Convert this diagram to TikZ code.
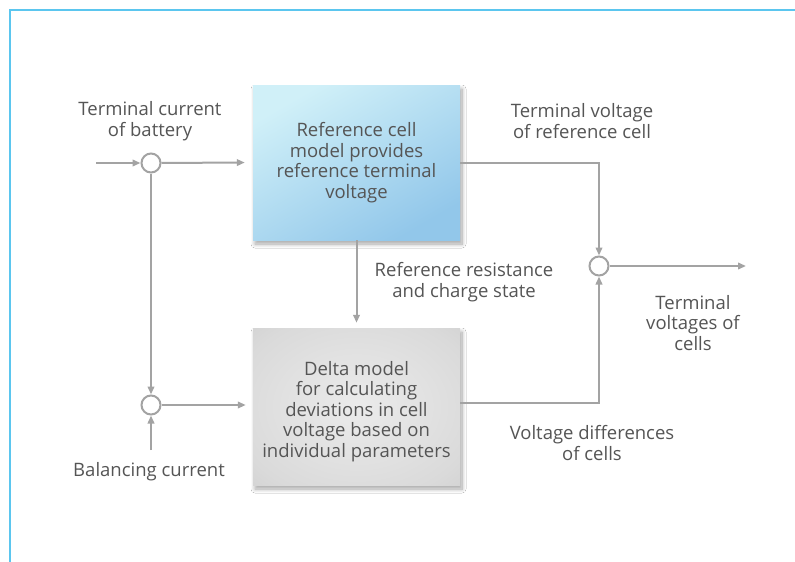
\documentclass[tikz,border=0pt]{standalone}
\usepackage{fontspec}
\setmainfont{Open Sans}
\usetikzlibrary{arrows.meta,shadows.blur,calc}
\definecolor{framec}{HTML}{5BC6EF}
\definecolor{linec}{HTML}{A3A3A3}
\definecolor{textc}{HTML}{555555}
\definecolor{bluetop}{HTML}{D0F0F8}
\definecolor{bluebot}{HTML}{92C7EA}
\definecolor{grayin}{HTML}{EBEBEB}
\definecolor{graymid}{HTML}{DADADA}
\definecolor{grayedge}{HTML}{C6C6C6}
\definecolor{graycorner}{HTML}{ADADAD}
\pgfdeclareradialshading{grayrad}{\pgfpoint{0bp}{0bp}}{color(0bp)=(grayin); color(30bp)=(graymid); color(50bp)=(grayedge); color(72bp)=(graycorner)}
\begin{document}
\begin{tikzpicture}[x=1pt,y=-1pt,
  conn/.style={draw=linec,line width=2pt},
  arr/.style={conn,-{Triangle[length=8pt,width=6.5pt]}},
  sumnode/.style={circle,draw=linec,line width=2pt,fill=white,minimum size=19pt,inner sep=0pt},
  lbl/.style={text=textc,align=center,font=\fontsize{18.5}{20.5}\selectfont,inner sep=0pt},
  boxbase/.style={rectangle,minimum width=207pt,inner sep=0pt,text=textc,align=center,
    font=\fontsize{18.5}{20.5}\selectfont,
    blur shadow={shadow xshift=2pt,shadow yshift=-4pt,shadow blur radius=4pt,shadow blur steps=10,shadow opacity=35}},
  refstyle/.style={boxbase,minimum height=155pt,top color=bluetop,bottom color=bluebot,shading angle=30},
  deltastyle/.style={boxbase,minimum height=157pt,shading=grayrad}
]
\useasboundingbox (0,0) rectangle (795,562);
\fill[white] (0,0) rectangle (795,562);
\draw[framec,line width=2.2pt] (10,563) -- (10,10) -- (796,10);

\node[refstyle] (refbox) at (356.5,162.5) {Reference cell\\model provides\\reference terminal\\voltage};
\node[deltastyle] (deltabox) at (356.5,406.5) {};
\node[lbl] (deltatext) at (356.5,411.5) {Delta model\\for calculating\\deviations in cell\\voltage based on\\individual parameters};

\node[sumnode] (c1) at (151,163) {};
\node[sumnode] (c2) at (151,405) {};
\node[sumnode] (c3) at (599,266) {};

\coordinate (in1) at (96,163);
\coordinate (bal) at (151,450);
\coordinate (out) at (746,266);

\draw[arr] (in1) -- (c1);
\draw[arr,shorten >=8pt] (c1) -- (refbox.west);
\draw[arr] (c1) -- (c2);
\draw[arr] (bal) -- (c2);
\draw[arr,shorten >=7pt] (c2) -- (deltabox.west |- c2);
\draw[arr,shorten >=5pt] (refbox.south) -- (deltabox.north);
\draw[arr] (refbox.east) -| (c3);
\draw[arr] ([yshift=4pt]deltabox.east) -| (c3);
\draw[arr] (c3) -- (out);

\node[lbl] (t1) at (150,121) {Terminal current\\of battery};
\node[lbl] (t2) at (582,121) {Terminal voltage\\of reference cell};
\node[lbl] (t3) at (464,282) {Reference resistance\\and charge state};
\node[lbl] (t4) at (693,323) {Terminal\\voltages of\\cells};
\node[lbl] (t5) at (592,443) {Voltage differences\\of cells};
\node[lbl] (t6) at (149,472) {Balancing current};
\end{tikzpicture}
\end{document}
